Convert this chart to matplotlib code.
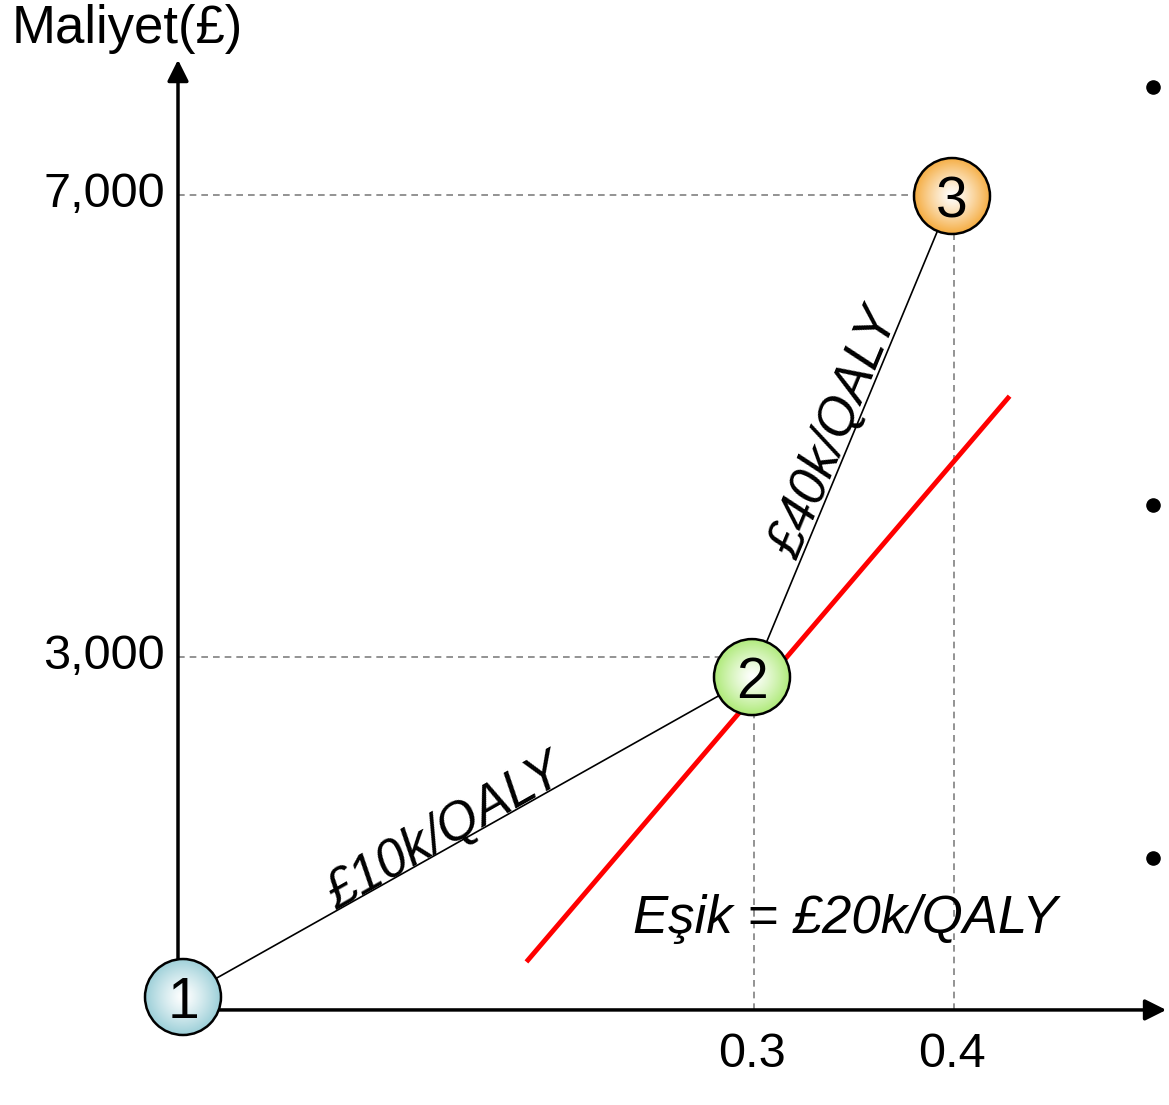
import numpy as np
from matplotlib import pyplot as plt
from matplotlib.patches import Ellipse

plt.rcParams['font.family'] = ['Liberation Sans', 'DejaVu Sans']

# strategies: effect (QALY) and cost (GBP), as placed in the picture
labels = ["1", "2", "3"]
effects = [0.0145, 0.299, 0.399]
costs = [52, 2822, 6987]
edgeColors = ["#9ccfd8", "#aeea78", "#f5ac40"]
yTicks = [3000, 7000]
yTickLabels = ["3,000", "7,000"]
xTicks = [0.3, 0.4]
xTickLabels = ["0.3", "0.4"]
# threshold line end points
threshX = [0.187, 0.427]
threshY = [372, 5238]

fig = plt.figure(figsize=(11.69, 11.05), dpi=100)
ax = fig.add_axes([0, 0, 1, 1])
ax.set_xlim(-0.077, 0.5075)
ax.set_ylim(-883, 8684)
ax.axis("off")

xAxisY = -60
yAxisX = 0.012

#guide lines
for x, y in zip(xTicks, yTicks):
    ax.plot([yAxisX, x], [y, y], color="#808080", lw=1.2, dashes=(4, 3), zorder=1)
    ax.plot([x, x], [xAxisY, y], color="#808080", lw=1.2, dashes=(4, 3), zorder=1)

#axes with arrows
ax.annotate("", xy=(yAxisX, 8190), xytext=(yAxisX, xAxisY),
            arrowprops=dict(arrowstyle="-|>", lw=2.5, color="black", mutation_scale=32), zorder=2)
ax.annotate("", xy=(0.5075, xAxisY), xytext=(yAxisX, xAxisY),
            arrowprops=dict(arrowstyle="-|>", lw=2.5, color="black", mutation_scale=32), zorder=2)

#frontier
ax.plot(effects, costs, color="black", lw=1.2, zorder=3)
ax.plot(threshX, threshY, color="#ff0000", lw=3.5, zorder=4)

#circles with radial gradient
rx = 38 / 2000
ry = 38 / 0.1155
n = 101
g = np.linspace(-1, 1, n)
gx, gy = np.meshgrid(g, g)
r = np.clip(np.sqrt(gx**2 + gy**2), 0, 1)
for lab, x, y, col in zip(labels, effects, costs, edgeColors):
    edge = np.array(plt.matplotlib.colors.to_rgb(col))
    center = np.array([1.0, 1.0, 1.0])
    t = r[..., None] ** 1.2
    img = center * (1 - t) + edge * t
    circ = Ellipse((x, y), 2 * rx, 2 * ry, facecolor="none", edgecolor="black", lw=1.8, zorder=6)
    ax.add_patch(circ)
    im = ax.imshow(img, extent=(x - rx, x + rx, y - ry, y + ry), aspect="auto", zorder=5)
    im.set_clip_path(circ)
    ax.text(x, y, lab, fontsize=41, ha="center", va="center_baseline", zorder=7)

#tick labels
for y, lab in zip(yTicks, yTickLabels):
    ax.text(0.0055, y, lab, fontsize=35, ha="right", va="center")
for x, lab in zip(xTicks, xTickLabels):
    ax.text(x - 0.001, -445, lab, fontsize=35, ha="center", va="center")

ax.text(-0.0135, 8430, "Maliyet(£)", fontsize=38, ha="center", va="center")

#slope labels
ax.text(0.1455, 1470, "£10k/QALY", fontsize=38, style="italic", rotation=29.5,
        ha="center", va="center", rotation_mode="anchor")
ax.text(0.3405, 4930, "£40k/QALY", fontsize=38, style="italic", rotation=67.5,
        ha="center", va="center", rotation_mode="anchor")
ax.text(0.3455, 730, "Eşik = £20k/QALY", fontsize=38, style="italic", ha="center", va="center")

#bullets
ax.scatter([0.4995] * 3, [7930, 4310, 1255], s=90, color="black", zorder=8)

fig.savefig("out.png", dpi=100)
